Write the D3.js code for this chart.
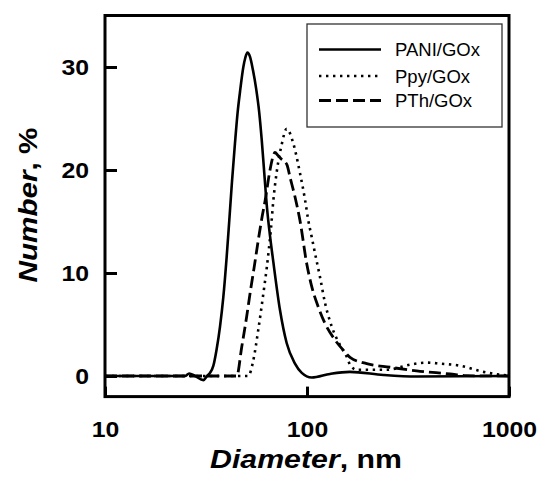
<!DOCTYPE html>
<html>
<head>
<meta charset="utf-8">
<script src="https://cdn.jsdelivr.net/npm/d3@7"></script>
<style>
  html, body { margin: 0; padding: 0; background: #fff; }
  svg text { font-family: "Liberation Sans", Arial, sans-serif; fill: #000; }
</style>
</head>
<body>
<div id="chart"></div>
<script>
// Number-weighted size distributions
const seriesNames = ['PANI/GOx', 'Ppy/GOx', 'PTh/GOx'];

const paniDiameter = [10, 20, 24.9, 26.1, 27.9, 30.7, 32.0, 33.1, 34.4, 35.7, 37.1, 38.5, 40.0, 41.2, 42.5, 44.0, 45.3, 46.6, 48.4,
    49.5, 50.7, 52.2, 54.0, 56.0, 58.0, 59.7, 61.5, 63.4, 65.6, 68.1, 73.5, 79.3, 87.2, 94.2, 105.5, 130, 163, 239, 349, 1000];
const paniNumber = [0, 0, 0, 0.25, 0, -0.4, 0, 0.3, 1.0, 2.6, 4.8, 7.6, 11.5, 15.0, 18.8, 22.6, 25.5, 27.6, 30.0,
    30.9, 31.4, 31.0, 29.7, 27.9, 25.6, 22.9, 19.6, 16.3, 13.6, 11.1, 6.4, 3.2, 1.2, 0.3, -0.15, 0.2, 0.4, 0.1, -0.05, 0];

const ppyDiameter = [10, 51.2, 54.2, 57.4, 60.8, 63.2, 64.9, 66.3, 68.1, 70.8, 75.0, 79.3, 85.5, 92.3, 97.8, 101.5, 105.5,
    109.6, 116.0, 122.8, 132.6, 145.7, 157, 163.3, 176.8, 248, 323, 391, 455, 572, 746, 934, 1000];
const ppyNumber = [0, 0, 1.5, 4.5, 8.0, 10.5, 12.5, 14.3, 17.0, 19.8, 22.5, 24.0, 22.6, 19.7, 17.1, 15.1, 13.5,
    11.9, 9.6, 7.1, 4.8, 3.0, 1.9, 1.1, 0.6, 0.6, 1.1, 1.3, 1.2, 1.0, 0.4, 0.1, 0.05];

const pthDiameter = [10, 44.9, 47.5, 50.3, 52.6, 54.7, 57.4, 60.0, 62.0, 65.6, 68.1, 69.4, 71.9, 74.4, 79.6, 82.4, 87.2, 92.3,
    99.7, 105.5, 113.7, 122.8, 137.6, 151.3, 163.3, 197.5, 257.6, 349, 510, 617, 1000];
const pthNumber = [0, 0, 2.8, 5.8, 8.4, 10.5, 13.2, 15.5, 17.0, 20.0, 21.4, 21.7, 21.4, 21.1, 20.5, 19.3, 17.4, 15.1,
    10.9, 8.7, 6.7, 5.1, 3.5, 2.5, 1.8, 1.2, 0.85, 0.5, 0.2, 0.03, 0];

const xTicks = [10, 100, 1000];
const yTicks = [0, 10, 20, 30];

const totalWidth = 541, totalHeight = 486;
const margin = { top: 15.5, right: 32, bottom: 89.4, left: 105 };
const width = totalWidth - margin.left - margin.right;
const height = totalHeight - margin.top - margin.bottom;

const svg = d3.select('#chart')
    .append('svg')
    .attr('width', totalWidth)
    .attr('height', totalHeight)
    .append('g')
    .attr('transform', `translate(${margin.left},${margin.top})`);

const x = d3.scaleLog()
    .domain([10, 1000])
    .range([0, width]);

const y = d3.scaleLinear()
    .domain([-2, 35])
    .range([height, 0]);

// series styles
const series = [
    { name: seriesNames[0], d: paniDiameter, n: paniNumber, dash: null, sw: 2.6 },
    { name: seriesNames[1], d: ppyDiameter, n: ppyNumber, dash: '2.4,4.6', sw: 2.6 },
    { name: seriesNames[2], d: pthDiameter, n: pthNumber, dash: '12,5', sw: 2.8 }
];

const line = d3.line()
    .x(p => x(p[0]))
    .y(p => y(p[1]))
    .curve(d3.curveMonotoneX);

series.forEach(s => {
    svg.append('path')
        .datum(d3.zip(s.d, s.n))
        .attr('fill', 'none')
        .attr('stroke', '#000')
        .attr('stroke-width', s.sw)
        .attr('stroke-dasharray', s.dash)
        .attr('d', line);
});

// Axes
const charWidth = 13.8;

const xAxis = svg.append('g')
    .attr('transform', `translate(0,${height})`)
    .call(d3.axisBottom(x)
        .tickValues(xTicks)
        .tickFormat(d3.format('d'))
        .tickSizeInner(-10)
        .tickSizeOuter(0)
        .tickPadding(25));

const yAxis = svg.append('g')
    .call(d3.axisLeft(y)
        .tickValues(yTicks)
        .tickSizeInner(-12)
        .tickSizeOuter(0)
        .tickPadding(16));

[xAxis, yAxis].forEach(ax => {
    ax.attr('font-family', null);
    ax.select('.domain').remove();
    ax.selectAll('line').attr('stroke', '#000').attr('stroke-width', 3);
    ax.selectAll('text')
        .attr('font-size', 22)
        .attr('font-weight', 'bold')
        .attr('textLength', function() { return this.textContent.length * charWidth; })
        .attr('lengthAdjust', 'spacingAndGlyphs');
});

// Frame
svg.append('rect')
    .attr('width', width)
    .attr('height', height)
    .attr('fill', 'none')
    .attr('stroke', '#000')
    .attr('stroke-width', 3);

// Axis titles
const xTitle = svg.append('text')
    .attr('x', 201)
    .attr('y', height + 71.5)
    .attr('text-anchor', 'middle')
    .attr('font-size', 26)
    .attr('font-weight', 'bold')
    .attr('textLength', 192)
    .attr('lengthAdjust', 'spacingAndGlyphs');
xTitle.append('tspan').attr('font-style', 'italic').text('Diameter');
xTitle.append('tspan').text(', nm');

const yTitle = svg.append('text')
    .attr('transform', `translate(${37 - margin.left},${205 - margin.top}) rotate(-90)`)
    .attr('text-anchor', 'middle')
    .attr('font-size', 26)
    .attr('font-weight', 'bold')
    .attr('textLength', 155)
    .attr('lengthAdjust', 'spacingAndGlyphs');
yTitle.append('tspan').attr('font-style', 'italic').text('Number');
yTitle.append('tspan').text(', %');

// Legend
const legend = svg.append('g')
    .attr('transform', `translate(${307 - margin.left},${24 - margin.top})`);

legend.append('rect')
    .attr('width', 195)
    .attr('height', 103)
    .attr('fill', '#fff')
    .attr('stroke', '#333')
    .attr('stroke-width', 1.3);

const rowY = [25.5, 52, 76.5];

series.forEach((s, i) => {
    legend.append('line')
        .attr('x1', 12)
        .attr('x2', 74)
        .attr('y1', rowY[i])
        .attr('y2', rowY[i])
        .attr('stroke', '#000')
        .attr('stroke-width', s.sw)
        .attr('stroke-dasharray', s.dash);

    legend.append('text')
        .attr('x', 88)
        .attr('y', rowY[i])
        .attr('dy', '0.36em')
        .attr('font-size', 18.5)
        .text(s.name);
});
</script>
</body>
</html>
